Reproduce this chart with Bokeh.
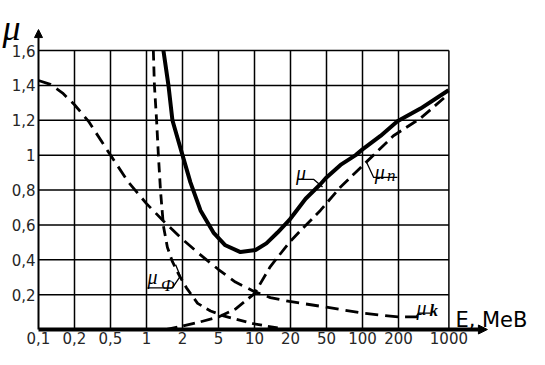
from bokeh.plotting import figure
from bokeh.models import Arrow, NormalHead, FixedTicker, Range1d
from bokeh.core.properties import value
from bokeh.embed import file_html
from bokeh.resources import INLINE

# ---- data (x in grid steps: 0.1,0.2,0.5,1,2,5,10,20,50,100,200,1000) ----
x_tick_pos = [0, 1, 2, 3, 4, 5, 6, 7, 8, 9, 10, 11.4]
x_tick_labels = ["0,1", "0,2", "0,5", "1", "2", "5", "10", "20", "50", "100", "200", "1000"]
y_ticks = [0.2, 0.4, 0.6, 0.8, 1.0, 1.2, 1.4, 1.6]
y_tick_labels = ["0,2", "0,4", "0,6", "0,8", "1", "1,2", "1,4", "1,6"]

mu_x = [3.47, 3.61, 3.72, 3.86, 4.0, 4.22, 4.5, 4.86, 5.19, 5.61, 6.03, 6.33, 6.64, 6.97,
        7.42, 7.83, 8.0, 8.39, 8.81, 9.0, 9.5, 9.97, 10.61, 11.39]
mu_y = [1.6, 1.4, 1.2, 1.1, 1.0, 0.844, 0.683, 0.556, 0.483, 0.444, 0.456, 0.494, 0.556, 0.628,
        0.75, 0.833, 0.872, 0.944, 1.0, 1.033, 1.11, 1.194, 1.267, 1.372]

mun_x = [3.53, 3.94, 4.5, 5.0, 5.47, 6.0, 6.44, 6.97, 7.28, 7.83, 8.39, 9.14, 9.86, 10.61, 11.39]
mun_y = [0.0, 0.017, 0.044, 0.072, 0.117, 0.206, 0.361, 0.5, 0.567, 0.683, 0.817, 0.967, 1.111, 1.211, 1.35]

muf_x = [3.19, 3.22, 3.28, 3.33, 3.39, 3.47, 3.58, 3.72, 3.92, 4.11, 4.42, 4.78, 5.14, 5.97, 6.72]
muf_y = [1.6, 1.4, 1.2, 1.0, 0.794, 0.594, 0.472, 0.389, 0.306, 0.239, 0.15, 0.106, 0.078, 0.033, 0.006]

muk_x = [0.0, 0.33, 0.67, 1.0, 1.39, 2.0, 2.5, 3.0, 3.47, 4.0, 4.5, 5.0, 5.47, 6.0, 6.44, 6.97,
         8.0, 9.0, 10.0, 10.67]
muk_y = [1.428, 1.406, 1.356, 1.289, 1.194, 1.0, 0.844, 0.722, 0.622, 0.517, 0.428, 0.344, 0.272,
         0.217, 0.183, 0.161, 0.128, 0.094, 0.072, 0.072]

# ---- figure: the frame fills the whole canvas, axes sit at fixed locations ----
W, H = 529, 349
X0_PX = 38           # canvas x of the y axis
Y0_PX = 329          # canvas y of the x axis
TOP_PX = 50          # canvas y of mu = 1.6
PX_X = 36.0          # pixels per grid step
PX_Y = (Y0_PX - TOP_PX) / 1.6
p = figure(width=W, height=H, output_backend="svg", toolbar_location=None,
           x_range=Range1d(-X0_PX / PX_X, (W - X0_PX) / PX_X),
           y_range=Range1d(-(H - Y0_PX) / PX_Y, Y0_PX / PX_Y),
           min_border_left=0, min_border_right=0, min_border_top=0, min_border_bottom=0)
p.outline_line_color = None
p.grid.visible = False
p.background_fill_color = "white"

for ax in (p.xaxis[0], p.yaxis[0]):
    ax.fixed_location = 0
    ax.axis_line_color = None
    ax.major_tick_line_color = None
    ax.minor_tick_line_color = None
    ax.major_tick_out = 0
    ax.major_tick_in = 0
    ax.major_label_text_font = "DejaVu Sans"
    ax.major_label_text_font_size = "15px"
    ax.major_label_text_color = "#262626"

p.xaxis.ticker = FixedTicker(ticks=x_tick_pos)
p.xaxis.major_label_overrides = {t: l for t, l in zip(x_tick_pos, x_tick_labels)}
p.xaxis.major_label_standoff = 2
p.yaxis.ticker = FixedTicker(ticks=y_ticks)
p.yaxis.major_label_overrides = {t: l for t, l in zip(y_ticks, y_tick_labels)}
p.yaxis.major_label_standoff = 3

# grid (boxed to the data area)
x_end = x_tick_pos[-1]
y_top = y_ticks[-1]
p.segment(x0=x_tick_pos[1:], y0=[0] * (len(x_tick_pos) - 1), x1=x_tick_pos[1:],
          y1=[y_top] * (len(x_tick_pos) - 1), line_color="black", line_width=1.5)
p.segment(x0=[0] * len(y_ticks), y0=y_ticks, x1=[x_end] * len(y_ticks), y1=y_ticks,
          line_color="black", line_width=1.5)

# curves
p.line(muk_x, muk_y, line_color="black", line_width=2.8, line_dash="13 7")
p.line(muf_x, muf_y, line_color="black", line_width=2.8, line_dash="10 6")
p.line(mun_x, mun_y, line_color="black", line_width=2.8, line_dash="12 6")
p.line(mu_x, mu_y, line_color="black", line_width=4)

# axes with arrows
p.add_layout(Arrow(end=NormalHead(size=9, fill_color="black", line_color="black"),
                   x_start=0, y_start=0, x_end=12.47, y_end=0,
                   line_color="black", line_width=4))
p.add_layout(Arrow(end=NormalHead(size=8, fill_color="black", line_color="black"),
                   x_start=0, y_start=0, x_end=0, y_end=1.72,
                   line_color="black", line_width=2))

# leader lines
p.line([7.19, 7.64, 7.89], [0.861, 0.861, 0.817], line_color="black", line_width=1.3)
p.line([9.11, 9.31, 9.97], [0.961, 0.872, 0.872], line_color="black", line_width=1.3)
p.line([3.03, 3.72, 3.94, 3.81], [0.239, 0.239, 0.306, 0.372], line_color="black", line_width=1.3)
p.line([10.5, 10.56, 10.89], [0.078, 0.094, 0.094], line_color="black", line_width=1.3)

serif = value("Liberation Serif")


def lab(x, y, t, size, style="italic"):
    p.text(x=[x], y=[y], text=[t], text_font=serif, text_font_style=style,
           text_font_size=size, text_color="black", text_baseline="alphabetic",
           text_align="left")


lab(7.15, 0.895, "μ", "20px")
lab(9.34, 0.905, "μ", "20px")
lab(9.68, 0.885, "n", "17px")
lab(3.03, 0.30, "μ", "20px")
lab(3.40, 0.25, "Ф", "17px")
lab(10.5, 0.125, "μ", "20px")
lab(10.86, 0.108, "k", "17px", "bold italic")
lab(-1.0, 1.73, "μ", "36px")

p.text(x=[11.58], y=[0.056], text=["E, MeB"], text_font=value("DejaVu Sans"),
       text_font_size="21px", text_color="black", text_baseline="alphabetic")

open("out.html", "w").write(file_html(p, INLINE))
